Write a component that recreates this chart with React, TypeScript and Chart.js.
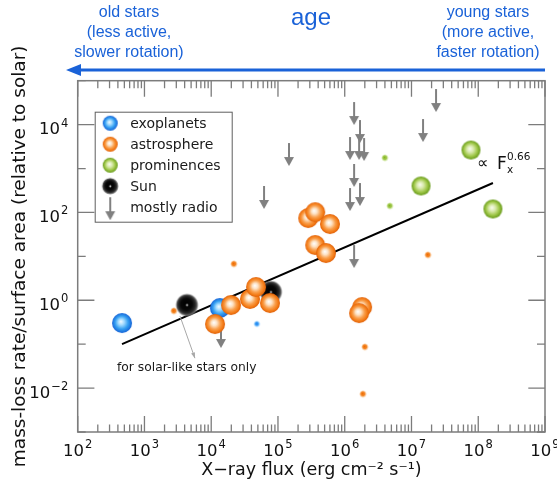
import React, { useEffect, useRef } from "react";
import { Chart, registerables } from "chart.js";

Chart.register(...registerables);

// ---- data ----
const exoplanetX = [461, 13500];
const exoplanetY = [0.303, 0.665];
const exoplanetSmallX = [48500];
const exoplanetSmallY = [0.288];

const astroX = [11400, 19800, 38100, 46900, 75900, 284000, 361000, 601000, 361000, 524000, 1820000, 1640000];
const astroY = [0.288, 0.78, 1.07, 2.0, 0.865, 74.6, 101, 54.5, 18.1, 11.9, 0.7, 0.51];
const astroSmallX = [2770, 21900, 17700000, 2010000, 1880000];
const astroSmallY = [0.569, 6.68, 10.7, 0.086, 0.0073];

const promX = [77800000, 13900000, 166000000];
const promY = [2640, 400, 120];
const promSmallX = [4010000, 4760000];
const promSmallY = [1740, 140];

const sunX = [4340, 78500];
const sunY = [0.78, 1.54];

const radioX = [1380000, 1690000, 1200000, 1640000, 1950000, 1380000, 1200000, 1690000, 23300000, 14900000, 146000, 61800, 1380000, 14000];
const radioY = [32700, 12700, 5220, 5220, 4950, 1270, 360, 468, 64700, 13400, 3810, 400, 18.1, 0.273];

const fitX = [461, 166000000];
const fitY = [0.1, 468];

const xTickExponents = [2, 3, 4, 5, 6, 7, 8, 9];
const yTickExponents = [-2, 0, 2, 4];

const legendLabels = ["exoplanets", "astrosphere", "prominences", "Sun", "mostly radio"];

// annotation anchors (data coordinates)
const fitLabelX = 103000000;
const fitLabelY = 975;
const noteTextX = 4300;
const noteTextY = 0.0286;
const noteArrowFromX = 3400;
const noteArrowFromY = 0.44;
const noteArrowToX = 5700;
const noteArrowToY = 0.048;

const FONT = '"DejaVu Sans", sans-serif';
const BLUE = "#1a62d8";
const AXIS_GRAY = "#7c7c7c";

const expText = (e: number) => (e < 0 ? "−" : "") + String(Math.abs(e));

const zip = (xs: number[], ys: number[]) => xs.map((x, i) => ({ x, y: ys[i] }));

function sphere(r: number, stops: [number, string][], center?: boolean) {
  const pad = 1;
  const size = Math.ceil(2 * r + 2 * pad);
  const c = document.createElement("canvas");
  c.width = size;
  c.height = size;
  const g = c.getContext("2d")!;
  const cx = size / 2;
  const cy = size / 2;
  const grad = g.createRadialGradient(cx - r * 0.12, cy - r * 0.15, 0, cx, cy, r);
  stops.forEach(([o, col]) => grad.addColorStop(o, col));
  g.fillStyle = grad;
  g.beginPath();
  g.arc(cx, cy, r, 0, Math.PI * 2);
  g.fill();
  if (center) {
    g.fillStyle = "#ffffff";
    g.beginPath();
    g.arc(cx, cy, 0.9, 0, Math.PI * 2);
    g.fill();
  }
  return c;
}

function downArrow(len: number, color: string) {
  const w = 12;
  const c = document.createElement("canvas");
  c.width = w;
  c.height = len * 2;
  const g = c.getContext("2d")!;
  g.strokeStyle = color;
  g.fillStyle = color;
  g.lineWidth = 2;
  g.beginPath();
  g.moveTo(w / 2, len);
  g.lineTo(w / 2, 2 * len - 8);
  g.stroke();
  g.beginPath();
  g.moveTo(w / 2 - 5, 2 * len - 9);
  g.lineTo(w / 2 + 5, 2 * len - 9);
  g.lineTo(w / 2, 2 * len);
  g.closePath();
  g.fill();
  return c;
}

const orangeStops: [number, string][] = [
  [0, "#ffffff"], [0.28, "#fde2c4"], [0.58, "#f9a04e"], [0.82, "#f47d18"], [1, "#df600a"],
];
const blueStops: [number, string][] = [
  [0, "#f2fbff"], [0.3, "#a3dbff"], [0.65, "#35a0f2"], [1, "#1462d6"],
];
const greenStops: [number, string][] = [
  [0, "#fbfdf2"], [0.35, "#d8e9ab"], [0.7, "#9fc748"], [1, "#66991a"],
];
const sunStops: [number, string][] = [
  [0, "#000000"], [0.5, "#080808"], [0.75, "#2a2a2a"], [0.9, "#6a6a6a"], [1, "rgba(150,150,150,0)"],
];

export default function App() {
  const ref = useRef<HTMLCanvasElement>(null);

  useEffect(() => {
    const canvas = ref.current!;
    const imgs = {
      blue: sphere(10, blueStops),
      blueSmall: sphere(3.5, [[0, "#1a7ff0"], [0.5, "#3d9ef4"], [1, "rgba(150,210,255,0)"]]),
      orange: sphere(10, orangeStops),
      orangeSmall: sphere(4, [[0, "#ef6a00"], [0.5, "#f48a2c"], [1, "rgba(250,190,130,0)"]]),
      green: sphere(9.5, greenStops),
      greenSmall: sphere(4, [[0, "#84b420"], [0.5, "#a6cc58"], [1, "rgba(210,235,160,0)"]]),
      sun: sphere(11.5, sunStops, true),
      radio: downArrow(23, "#808080"),
      lBlue: sphere(7.5, blueStops),
      lOrange: sphere(7.5, orangeStops),
      lGreen: sphere(7.5, greenStops),
      lSun: sphere(8.5, sunStops, true),
    };

    const pointDs = (
      label: string,
      data: { x: number; y: number }[],
      img: HTMLCanvasElement,
      legendImg?: HTMLCanvasElement,
      legendOrder?: number
    ) => ({
      label,
      data,
      pointStyle: img,
      pointRadius: 10,
      showLine: false,
      legendImg,
      legendOrder,
    });

    const chartAnnotations = {
      id: "annotations",
      beforeDatasetsDraw(chart: any) {
        const { ctx, chartArea: a, scales } = chart;
        const xs = scales.x;
        const ys = scales.y;
        ctx.save();
        ctx.strokeStyle = AXIS_GRAY;
        ctx.lineWidth = 1.3;
        ctx.beginPath();
        for (let e = 2; e <= 9; e++) {
          for (let m = 1; m <= 9; m++) {
            if (e === 9 && m > 1) break;
            const px = xs.getPixelForValue(m * Math.pow(10, e));
            const len = m === 1 ? 16 : 7.5;
            ctx.moveTo(px, a.bottom);
            ctx.lineTo(px, a.bottom - len);
            ctx.moveTo(px, a.top);
            ctx.lineTo(px, a.top + len);
          }
        }
        for (let e = -3; e <= 5; e++) {
          const py = ys.getPixelForValue(Math.pow(10, e));
          const len = e % 2 === 0 ? 16.7 : 8;
          ctx.moveTo(a.left, py);
          ctx.lineTo(a.left + len, py);
          ctx.moveTo(a.right, py);
          ctx.lineTo(a.right - len, py);
        }
        ctx.stroke();
        ctx.lineWidth = 1.5;
        ctx.strokeRect(a.left, a.top, a.right - a.left, a.bottom - a.top);
        ctx.restore();
      },
      afterDatasetsDraw(chart: any) {
        const { ctx, chartArea: a, scales } = chart;
        const xs = scales.x;
        const ys = scales.y;
        ctx.save();
        // fit label
        const fx = xs.getPixelForValue(fitLabelX);
        const fy = ys.getPixelForValue(fitLabelY);
        ctx.fillStyle = "#111";
        ctx.textBaseline = "alphabetic";
        ctx.textAlign = "left";
        ctx.font = `16px ${FONT}`;
        ctx.fillText("∝", fx - 2, fy - 1);
        ctx.font = `17px ${FONT}`;
        ctx.fillText("F", fx + 18, fy);
        ctx.font = `10.5px ${FONT}`;
        ctx.fillText("x", fx + 28, fy + 4);
        ctx.fillText("0.66", fx + 28, fy - 9);

        // solar-like note
        const x0 = xs.getPixelForValue(noteArrowFromX);
        const y0 = ys.getPixelForValue(noteArrowFromY);
        const x1 = xs.getPixelForValue(noteArrowToX);
        const y1 = ys.getPixelForValue(noteArrowToY);
        ctx.strokeStyle = "#a8a8a8";
        ctx.fillStyle = "#a8a8a8";
        ctx.lineWidth = 1;
        ctx.beginPath();
        ctx.moveTo(x0, y0);
        ctx.lineTo(x1, y1);
        ctx.stroke();
        const ang = Math.atan2(y1 - y0, x1 - x0);
        ctx.beginPath();
        ctx.moveTo(x1, y1);
        ctx.lineTo(x1 - 6 * Math.cos(ang - 0.35), y1 - 6 * Math.sin(ang - 0.35));
        ctx.lineTo(x1 - 6 * Math.cos(ang + 0.35), y1 - 6 * Math.sin(ang + 0.35));
        ctx.closePath();
        ctx.fill();
        ctx.fillStyle = "#1a1a1a";
        ctx.font = `12.3px ${FONT}`;
        ctx.textAlign = "center";
        ctx.textBaseline = "middle";
        ctx.fillText("for solar-like stars only", xs.getPixelForValue(noteTextX), ys.getPixelForValue(noteTextY));

        // legend
        const items = chart.data.datasets
          .filter((d: any) => d.legendImg)
          .sort((p: any, q: any) => p.legendOrder - q.legendOrder);
        const bx = a.left + 17.5;
        const by = a.top + 31.5;
        const bw = 137;
        const bh = 110;
        ctx.fillStyle = "#ffffff";
        ctx.fillRect(bx, by, bw, bh);
        ctx.strokeStyle = "#5e5e5e";
        ctx.lineWidth = 1;
        ctx.strokeRect(bx, by, bw, bh);
        ctx.font = `14px ${FONT}`;
        ctx.textAlign = "left";
        ctx.textBaseline = "middle";
        items.forEach((d: any, i: number) => {
          const cy = by + 11 + i * 21;
          const cx = bx + 15;
          const im: HTMLCanvasElement = d.legendImg;
          if (d.label === legendLabels[4]) {
            ctx.drawImage(im, cx - im.width / 2, cy - 10 - im.height / 2);
          } else {
            ctx.drawImage(im, cx - im.width / 2, cy - im.height / 2);
          }
          ctx.fillStyle = "#1a1a1a";
          ctx.fillText(d.label, bx + 35, cy + 1);
        });
        ctx.restore();
      },
      afterDraw(chart: any) {
        const { ctx, chartArea: a, scales } = chart;
        const xs = scales.x;
        const ys = scales.y;
        ctx.save();
        // tick labels: 10 with raised exponent
        ctx.fillStyle = "#111";
        ctx.textBaseline = "alphabetic";
        ctx.textAlign = "left";
        const big = `16.5px ${FONT}`;
        const small = `11.5px ${FONT}`;
        const widths = (e: number) => {
          ctx.font = big;
          const w1 = ctx.measureText("10").width;
          ctx.font = small;
          const w2 = ctx.measureText(expText(e)).width;
          return [w1, w2];
        };
        xs.ticks.forEach((t: any) => {
          const e = Math.round(Math.log10(t.value));
          const px = xs.getPixelForValue(t.value);
          const [w1, w2] = widths(e);
          const start = px - (w1 + w2 + 1) / 2;
          ctx.font = big;
          ctx.fillText("10", start, a.bottom + 24);
          ctx.font = small;
          ctx.fillText(expText(e), start + w1 + 1, a.bottom + 16);
        });
        ys.ticks.forEach((t: any) => {
          const e = Math.round(Math.log10(t.value));
          const py = ys.getPixelForValue(t.value);
          const [w1, w2] = widths(e);
          const start = a.left - 9.5 - (w1 + w2 + 1);
          ctx.font = big;
          ctx.fillText("10", start, py + 9.5);
          ctx.font = small;
          ctx.fillText(expText(e), start + w1 + 1, py + 2);
        });

        // age arrow
        const y = a.top - 10.7;
        ctx.strokeStyle = BLUE;
        ctx.fillStyle = BLUE;
        ctx.lineWidth = 3;
        ctx.beginPath();
        ctx.moveTo(a.right, y);
        ctx.lineTo(78, y);
        ctx.stroke();
        ctx.beginPath();
        ctx.moveTo(66, y);
        ctx.lineTo(81, y - 6);
        ctx.lineTo(81, y + 6);
        ctx.closePath();
        ctx.fill();
        ctx.restore();
      },
    };

    const tickLabel = (v: any) => "10^" + Math.round(Math.log10(Number(v)));

    const chart = new Chart(canvas, {
      type: "scatter",
      data: {
        datasets: [
          pointDs(legendLabels[1], zip(astroX, astroY), imgs.orange, imgs.lOrange, 1),
          pointDs(legendLabels[1] + " (small)", zip(astroSmallX, astroSmallY), imgs.orangeSmall),
          pointDs(legendLabels[2], zip(promX, promY), imgs.green, imgs.lGreen, 2),
          pointDs(legendLabels[2] + " (small)", zip(promSmallX, promSmallY), imgs.greenSmall),
          pointDs(legendLabels[0], zip(exoplanetX, exoplanetY), imgs.blue, imgs.lBlue, 0),
          pointDs(legendLabels[0] + " (small)", zip(exoplanetSmallX, exoplanetSmallY), imgs.blueSmall),
          pointDs(legendLabels[3], zip(sunX, sunY), imgs.sun, imgs.lSun, 3),
          pointDs(legendLabels[4], zip(radioX, radioY), imgs.radio, imgs.radio, 4),
          {
            label: "fit",
            data: zip(fitX, fitY),
            showLine: true,
            borderColor: "#000000",
            borderWidth: 2,
            pointRadius: 0,
          },
        ] as any,
      },
      options: {
        animation: false,
        responsive: true,
        maintainAspectRatio: false,
        events: [],
        layout: { padding: { top: 80.7, right: 12, left: 0, bottom: 0 }, autoPadding: false } as any,
        plugins: {
          legend: { display: false },
          tooltip: { enabled: false },
        },
        scales: {
          x: {
            type: "logarithmic",
            min: 100,
            max: 1e9,
            grid: { display: false },
            border: { display: false },
            afterBuildTicks: (scale: any) => {
              scale.ticks = xTickExponents.map((e) => ({ value: Math.pow(10, e) }));
            },
            afterFit: (scale: any) => {
              scale.height = 57;
              scale.paddingLeft = 0;
              scale.paddingRight = 0;
            },
            ticks: { display: false, autoSkip: false, callback: tickLabel },
            title: {
              display: true,
              text: "X−ray flux (erg cm⁻² s⁻¹)",
              color: "#111",
              font: { family: FONT, size: 17.5 },
              padding: { top: 0, bottom: 8 },
            },
          },
          y: {
            type: "logarithmic",
            min: 1e-3,
            max: 1e5,
            grid: { display: false },
            border: { display: false },
            afterBuildTicks: (scale: any) => {
              scale.ticks = yTickExponents.map((e) => ({ value: Math.pow(10, e) }));
            },
            afterFit: (scale: any) => {
              scale.width = 77.7;
              scale.paddingTop = 0;
              scale.paddingBottom = 0;
            },
            ticks: { display: false, autoSkip: false, callback: tickLabel },
            title: {
              display: true,
              text: "mass-loss rate/surface area (relative to solar)",
              color: "#111",
              font: { family: FONT, size: 18.5 },
              padding: { top: 9, bottom: 0 },
            },
          },
        },
      } as any,
      plugins: [chartAnnotations as any],
    });
    return () => chart.destroy();
  }, []);

  const headStyle: React.CSSProperties = {
    position: "absolute",
    color: BLUE,
    fontFamily: '"Liberation Sans", Arial, sans-serif',
    fontSize: 16,
    lineHeight: "20px",
    textAlign: "center",
    pointerEvents: "none",
    whiteSpace: "nowrap",
  };

  return (
    <div style={{ position: "absolute", left: 0, top: 0, width: 557, height: 489, overflow: "hidden", background: "#fff" }}>
      <canvas ref={ref} />
      <div style={{ ...headStyle, left: 49, top: 2, width: 160 }}>
        old stars<br />(less active,<br />slower rotation)
      </div>
      <div style={{ ...headStyle, left: 261, top: 3, width: 100, fontSize: 24, lineHeight: "28px" }}>age</div>
      <div style={{ ...headStyle, left: 423, top: 2, width: 130 }}>
        young stars<br />(more active,<br />faster rotation)
      </div>
    </div>
  );
}
